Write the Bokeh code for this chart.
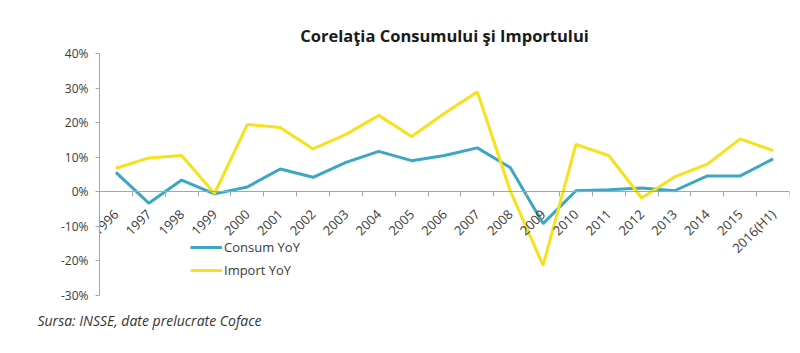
import math
from bokeh.plotting import figure
from bokeh.models import (Range1d, FixedTicker, PrintfTickFormatter, Title,
                          ColumnDataSource)
from bokeh.embed import file_html
from bokeh.resources import INLINE

# ---- data ----
years = ["1996", "1997", "1998", "1999", "2000", "2001", "2002", "2003", "2004",
         "2005", "2006", "2007", "2008", "2009", "2010", "2011", "2012", "2013",
         "2014", "2015", "2016(H1)"]
consum_yoy = [5.6, -3.3, 3.4, -0.6, 1.4, 6.6, 4.2, 8.5, 11.7, 9.0, 10.5, 12.7,
              7.0, -9.2, 0.3, 0.6, 1.1, 0.3, 4.6, 4.6, 9.5]
import_yoy = [6.8, 9.8, 10.5, -0.5, 19.5, 18.6, 12.4, 16.6, 22.1, 16.0, 22.7,
              28.9, 0.3, -21.3, 13.7, 10.5, -1.8, 4.3, 8.0, 15.3, 11.9]
y_ticks = [-30, -20, -10, 0, 10, 20, 30, 40]
title_text = "Corelaţia Consumului şi Importului"
source_text = "Sursa: INSSE, date prelucrate Coface"

n = len(years)
idx = list(range(n))
src = ColumnDataSource(dict(x=idx, consum=consum_yoy, imp=import_yoy))

BLUE = "#3BA7C3"
YELLOW = "#F5E11C"
AXIS = "#A6A6A6"
TXT = "#3A3A3A"

p = figure(width=800, height=353, output_backend="svg", toolbar_location=None,
           x_range=Range1d(-0.5, n - 0.5), y_range=Range1d(y_ticks[0], y_ticks[-1]),
           min_border_left=99, min_border_right=11, min_border_top=53,
           min_border_bottom=58)
p.outline_line_color = None
p.grid.visible = False
p.background_fill_color = "white"
p.border_fill_color = "white"

p.title.text = title_text
p.title.align = "center"
p.title.text_font = "Open Sans"
p.title.text_font_style = "bold"
p.title.text_font_size = "16.5px"
p.title.text_color = "#1A1A1A"
p.title.standoff = 14

p.line("x", "consum", source=src, line_color=BLUE, line_width=3,
       legend_label="Consum YoY")
p.line("x", "imp", source=src, line_color=YELLOW, line_width=3,
       legend_label="Import YoY")

# y axis
ya = p.yaxis[0]
ya.ticker = FixedTicker(ticks=y_ticks)
ya.formatter = PrintfTickFormatter(format="%d%%")
ya.axis_line_color = AXIS
ya.major_tick_line_color = AXIS
ya.major_tick_out = 4
ya.major_tick_in = 0
ya.minor_tick_line_color = None
ya.major_label_text_font = "Open Sans"
ya.major_label_text_font_size = "12px"
ya.major_label_text_color = TXT
ya.major_label_standoff = 7

# x axis crossing at y = 0, ticks on category boundaries
xa = p.xaxis[0]
xa.fixed_location = 0
xa.ticker = FixedTicker(ticks=idx, minor_ticks=[i - 0.5 for i in range(n + 1)])
xa.major_label_overrides = {i: years[i] for i in idx}
xa.major_label_orientation = math.pi / 4
xa.axis_line_color = AXIS
xa.major_tick_line_color = None
xa.minor_tick_line_color = AXIS
xa.minor_tick_out = 5
xa.minor_tick_in = 0
xa.major_label_text_font = "Open Sans"
xa.major_label_text_font_size = "13px"
xa.major_label_text_color = TXT
xa.major_label_standoff = 14

# legend
lg = p.legend[0]
lg.location = (91, 15)
lg.border_line_color = None
lg.background_fill_alpha = 0
lg.padding = 0
lg.margin = 0
lg.spacing = 3
lg.glyph_width = 32
lg.glyph_height = 20
lg.label_height = 20
lg.label_standoff = 2
lg.label_text_font = "Open Sans"
lg.label_text_font_size = "13px"
lg.label_text_color = TXT

# source note
p.add_layout(Title(text=source_text, align="left", offset=-62, standoff=27,
                   text_font="Open Sans", text_font_style="italic",
                   text_font_size="14px", text_color="#333333"), "below")

open("out.html", "w").write(file_html(p, INLINE))
